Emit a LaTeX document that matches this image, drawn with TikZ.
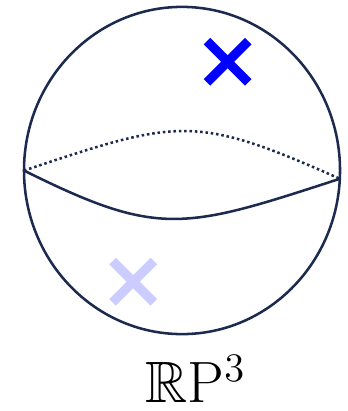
\documentclass[tikz,border=0pt]{standalone}
\usepackage{amssymb}
\usetikzlibrary{shapes.geometric,shapes.misc}
\definecolor{rimblue}{HTML}{1B2A4E}

\begin{document}
\begin{tikzpicture}[
    ball/.style={ellipse, draw=rimblue, line width=0.9pt, minimum width=3.95cm,
                 minimum height=4.09cm, inner sep=0pt, outer sep=0pt},
    cross/.style={cross out, draw, line width=3.3pt, minimum size=0.4cm, inner sep=0pt},
    rim/.style={rimblue, line width=0.9pt}
  ]
  \useasboundingbox (-2.275,-3.006) rectangle (2.0625,2.131);
  \node[ball] (ball) at (0,0) {};
  \coordinate (l) at (ball.west);
  \coordinate (r) at (ball.-3);
  % equator, back half dotted
  \draw[rim, dash pattern=on 0.9pt off 1pt] (l) .. controls (-0.05,0.64) and (0.15,0.71) .. (r);
  \draw[rim] (l) .. controls (-0.29,-0.84) and (0.02,-0.74) .. (r);
  \node[cross, draw=blue] (p) at (0.57,1.36) {};
  \node[cross, draw=blue!20] (q) at (-0.61,-1.39) {};
  \node[anchor=base, font=\huge, inner sep=0pt] (lbl) at (0.17,-2.9) {$\mathbb{R}\mathrm{P}^3$};
\end{tikzpicture}
\end{document}
